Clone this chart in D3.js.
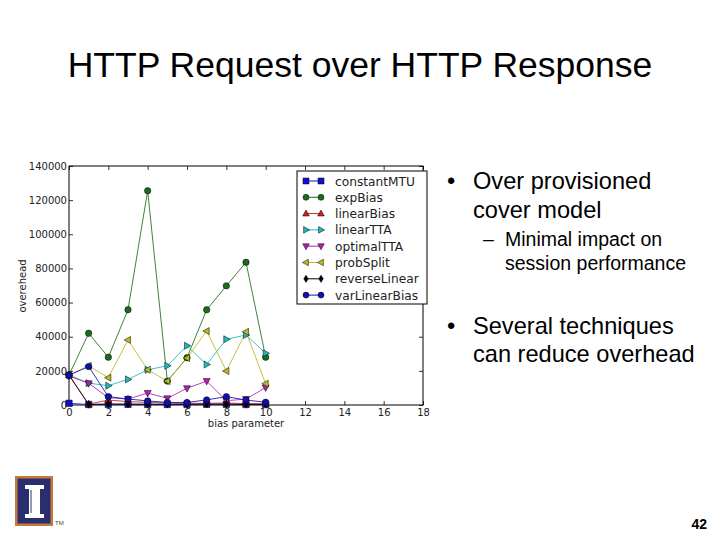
<!DOCTYPE html>
<html><head><meta charset="utf-8">
<script src="https://cdn.jsdelivr.net/npm/d3@7"></script>
<style>body{margin:0;background:#fff}svg{display:block}</style>
</head><body>
<script>
const biasParam = [0,1,2,3,4,5,6,7,8,9,10];
const constantMTU   = [1000, 300, 400, 400, 300, 300, 300, 400, 400, 300, 300];
const expBias       = [17500, 42000, 28000, 55800, 125500, 14000, 27700, 55800, 69800, 83600, 28000];
const linearBias    = [17500, 500, 2900, 2000, 1500, 1200, 1000, 1000, 1200, 800, 700];
const linearTTA     = [17500, 12800, 11300, 15000, 20600, 23000, 34700, 23700, 38500, 41000, 30300];
const optimalTTA    = [17000, 12700, 4300, 3500, 7000, 3900, 9800, 14000, 2500, 3500, 10200];
const probSplit     = [17500, 23000, 16000, 38100, 20700, 14000, 27500, 43300, 19900, 42900, 12500];
const reverseLinear = [17500, 300, 600, 500, 500, 500, 500, 500, 500, 400, 400];
const varLinearBias = [17500, 22500, 4900, 3500, 2400, 1500, 1500, 3000, 4900, 2900, 1600];
const seriesNames = ["constantMTU","expBias","linearBias","linearTTA","optimalTTA","probSplit","reverseLinear","varLinearBias"];
const seriesValues = [constantMTU, expBias, linearBias, linearTTA, optimalTTA, probSplit, reverseLinear, varLinearBias];
const xTicks = [0,2,4,6,8,10,12,14,16,18];
const yTicks = [0,20000,40000,60000,80000,100000,120000,140000];

const colors = ["#1010d0","#1a6e1a","#d02020","#20b8b8","#b020b0","#b8b820","#000000","#1010b0"];
const markers = ["square","circle","triangleUp","triangleRight","triangleDown","triangleLeft","diamond","circle"];

const W=720,H=540;
const svg = d3.select("body").append("svg").attr("width",W).attr("height",H);
svg.append("rect").attr("width",W).attr("height",H).attr("fill","#fff");

// Title
svg.append("text").attr("x",360).attr("y",77).attr("text-anchor","middle")
  .attr("font-family","Liberation Sans, Arial, sans-serif").attr("font-size",35.5).attr("fill","#000")
  .text("HTTP Request over HTTP Response");

const x = d3.scaleLinear().domain([0,18]).range([69,423]);
const y = d3.scaleLinear().domain([0,140000]).range([405,166]);

const g = svg.append("g");
const tickFont = "DejaVu Sans, sans-serif";

// axes
const xa = g.append("g").attr("transform","translate(0,405)")
  .call(d3.axisBottom(x).tickValues(xTicks).tickSize(-4).tickPadding(4).tickFormat(d3.format("d")));
const xa2 = g.append("g").attr("transform","translate(0,166)")
  .call(d3.axisTop(x).tickValues(xTicks).tickSize(-4).tickFormat(""));
const ya = g.append("g").attr("transform","translate(69,0)")
  .call(d3.axisLeft(y).tickValues(yTicks).tickSize(-4).tickPadding(2).tickFormat(d3.format("d")));
const ya2 = g.append("g").attr("transform","translate(423,0)")
  .call(d3.axisRight(y).tickValues(yTicks).tickSize(-4).tickFormat(""));
[xa,xa2,ya,ya2].forEach(a=>{
  a.select(".domain").remove();
  a.selectAll("line").attr("stroke","#000").attr("stroke-width",0.8);
  a.selectAll("text").attr("font-family",tickFont).attr("font-size",10).attr("fill","#222");
});
g.append("rect").attr("x",69).attr("y",166).attr("width",354).attr("height",239)
  .attr("fill","none").attr("stroke","#000").attr("stroke-width",1);

// labels
svg.append("text").attr("x",246).attr("y",427).attr("text-anchor","middle")
  .attr("font-family",tickFont).attr("font-size",10).attr("fill","#222").text("bias parameter");
svg.append("text").attr("transform","translate(26,286) rotate(-90)").attr("text-anchor","middle")
  .attr("font-family",tickFont).attr("font-size",10).attr("fill","#222").text("overehead");

function markerPath(type, s){
  const r=s;
  switch(type){
    case "square": return `M${-r},${-r}h${2*r}v${2*r}h${-2*r}Z`;
    case "circle": return d3.symbol(d3.symbolCircle, Math.PI*r*r)();
    case "triangleUp": return `M0,${-r*1.2}L${r*1.1},${r*0.8}L${-r*1.1},${r*0.8}Z`;
    case "triangleDown": return `M0,${r*1.2}L${r*1.1},${-r*0.8}L${-r*1.1},${-r*0.8}Z`;
    case "triangleRight": return `M${r*1.2},0L${-r*0.8},${r*1.1}L${-r*0.8},${-r*1.1}Z`;
    case "triangleLeft": return `M${-r*1.2},0L${r*0.8},${r*1.1}L${r*0.8},${-r*1.1}Z`;
    case "diamond": return `M0,${-r*1.2}L${r*0.75},0L0,${r*1.2}L${-r*0.75},0Z`;
  }
}

const plot = g.append("g");
const line = d3.line().x((d,i)=>x(biasParam[i])).y(d=>y(d));
seriesValues.forEach((vals,si)=>{
  plot.append("path").datum(vals).attr("d",line).attr("fill","none")
    .attr("stroke",colors[si]).attr("stroke-width",1).attr("stroke-opacity",0.85);
});
seriesValues.forEach((vals,si)=>{
  plot.selectAll(null).data(vals).enter().append("path")
    .attr("transform",(d,i)=>`translate(${x(biasParam[i])},${y(d)})`)
    .attr("d",markerPath(markers[si],3.2))
    .attr("fill",colors[si]).attr("stroke","#000").attr("stroke-width",0.5);
});

// legend
const lg = svg.append("g");
lg.append("rect").attr("x",297).attr("y",171).attr("width",130).attr("height",133)
  .attr("fill","#fff").attr("stroke","#000").attr("stroke-width",1);
seriesNames.forEach((n,i)=>{
  const yy = 181 + i*16.3;
  lg.append("line").attr("x1",306).attr("x2",321).attr("y1",yy).attr("y2",yy)
    .attr("stroke",colors[i]).attr("stroke-width",1);
  [306,321].forEach(xx=>{
    lg.append("path").attr("transform",`translate(${xx},${yy})`).attr("d",markerPath(markers[i],3))
      .attr("fill",colors[i]).attr("stroke","#000").attr("stroke-width",0.5);
  });
  lg.append("text").attr("x",335).attr("y",yy+4.5).attr("font-family",tickFont).attr("font-size",12.2)
    .attr("fill","#222").text(n);
});

// bullets
const bf = "Liberation Sans, Arial, sans-serif";
function t(xx,yy,size,str){
  svg.append("text").attr("x",xx).attr("y",yy).attr("font-family",bf).attr("font-size",size).attr("fill","#000").text(str);
}
t(447,189,23.6,"•"); t(473,189,23.6,"Over provisioned"); t(473,218,23.6,"cover model");
t(483,246,19.5,"–"); t(505,246,19.5,"Minimal impact on"); t(505,270,19.5,"session performance");
t(447,334,23.6,"•"); t(473,334,23.6,"Several techniques"); t(473,362,23.6,"can reduce overhead");

svg.append("text").attr("x",707).attr("y",529).attr("text-anchor","end").attr("font-family",bf)
  .attr("font-weight","bold").attr("font-size",14).attr("fill","#000").text("42");

// logo
const logo = svg.append("g");
logo.append("rect").attr("x",15).attr("y",476).attr("width",38).attr("height",50).attr("fill","#c47a3a");
logo.append("rect").attr("x",17.5).attr("y",478.5).attr("width",33).attr("height",45).attr("fill","#2a2e6e");
logo.append("path").attr("d","M25,485h19v4h-4v25h4v4h-19v-4h4v-25h-4Z").attr("fill","#fff");
logo.append("path").attr("d","M31,490v23").attr("stroke","#2a2e6e").attr("stroke-width",1);
logo.append("text").attr("x",55).attr("y",525).attr("font-family",bf).attr("font-size",6).attr("fill","#444").text("TM");
</script>
</body></html>
